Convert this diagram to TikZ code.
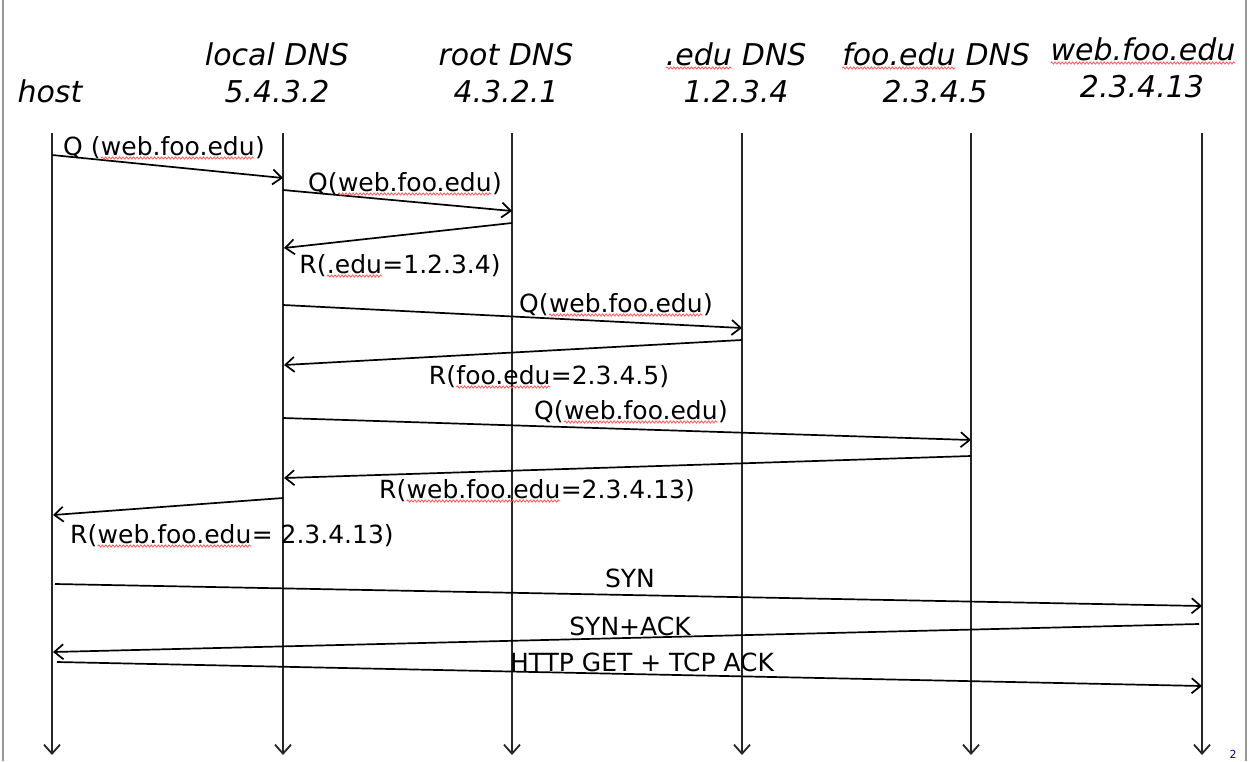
\documentclass[tikz,border=0pt]{standalone}
\usepackage{fontspec}
\setmainfont{DejaVu Sans}
\usetikzlibrary{arrows.meta,decorations.pathmorphing}
\tikzset{squig/.style={draw=red!65!white, line width=0.8pt, decorate, decoration={snake,amplitude=1.1pt,segment length=3.5pt}}}
\newcommand\sqg[1]{\tikz[baseline=(sqw.base)]{\node[inner sep=0pt,outer sep=0pt,anchor=base](sqw) at (0,0) {#1};\draw[squig] ([yshift=-3pt]sqw.base west) -- ([yshift=-3pt]sqw.base east);}}
\begin{document}
\begin{tikzpicture}[x=1pt,y=-1pt,
  hdr/.style={font=\fontsize{30}{32}\selectfont\itshape, inner sep=0pt, anchor=base},
  lbl/.style={font=\fontsize{25}{27}\selectfont, inner sep=0pt, anchor=base},
  life/.style={draw=black!85, line width=1.8pt, -{Straight Barb[length=9pt,width=16pt,line width=1.8pt]}},
  msg/.style={draw=black, line width=1.7pt, -{Straight Barb[length=9pt,width=15pt,line width=1.7pt]}},
  border/.style={draw=black!40, line width=2pt}]
\useasboundingbox (0,0) rectangle (1249,761);
\clip (0,0) rectangle (1249,761);
\fill[white] (0,0) rectangle (1249,761);
% page borders
\coordinate (bl1) at (2.5,0); \coordinate (bl2) at (2.5,761);
\coordinate (br1) at (1246,0); \coordinate (br2) at (1246,761);
\draw[border] (bl1) -- (bl2);
\draw[border] (br1) -- (br2);
% headers
\node[hdr] (hhost) at (50,102) {host};
\node[hdr] (hloc1) at (277,65) {local DNS};
\node[hdr] (hloc2) at (277,102) {5.4.3.2};
\node[hdr] (hroot1) at (506,65) {root DNS};
\node[hdr] (hroot2) at (506,102) {4.3.2.1};
\node[hdr] (hedu1) at (736,65) {\sqg{.edu} DNS};
\node[hdr] (hedu2) at (736,102) {1.2.3.4};
\node[hdr] (hfoo1) at (936,65) {\sqg{foo.edu} DNS};
\node[hdr] (hfoo2) at (935,102) {2.3.4.5};
\node[hdr] (hweb1) at (1143,60) {\sqg{web.foo.edu}};
\node[hdr] (hweb2) at (1142,97) {2.3.4.13};
% lifelines
\coordinate (hostT) at (52,133);  \coordinate (hostB) at (52,755);
\coordinate (locT) at (283,133);  \coordinate (locB) at (283,755);
\coordinate (rootT) at (512,133); \coordinate (rootB) at (512,755);
\coordinate (eduT) at (742,133);  \coordinate (eduB) at (742,755);
\coordinate (fooT) at (971,133);  \coordinate (fooB) at (971,755);
\coordinate (webT) at (1202,133); \coordinate (webB) at (1202,755);
\foreach \n in {host,loc,root,edu,foo,web}{\draw[life] (\n T) -- (\n B);}
% message end points
\coordinate (m1s) at (52,155);   \coordinate (m1e) at (283,178);
\coordinate (m2s) at (283,190);  \coordinate (m2e) at (512,211);
\coordinate (m3s) at (512,223);  \coordinate (m3e) at (284,248);
\coordinate (m4s) at (283,305);  \coordinate (m4e) at (742,328);
\coordinate (m5s) at (742,340);  \coordinate (m5e) at (284,365);
\coordinate (m6s) at (283,418);  \coordinate (m6e) at (971,440);
\coordinate (m7s) at (971,456);  \coordinate (m7e) at (284,478);
\coordinate (m8s) at (283,498);  \coordinate (m8e) at (53,515);
\coordinate (m9s) at (55,584);   \coordinate (m9e) at (1202,606);
\coordinate (m10s) at (1199,624); \coordinate (m10e) at (53,652);
\coordinate (m11s) at (57,662);  \coordinate (m11e) at (1202,686);
\foreach \i in {1,...,11}{\draw[msg] (m\i s) -- (m\i e);}
% labels
\node[lbl] (l1) at (164,155) {Q (\sqg{web.foo.edu})};
\node[lbl] (l2) at (405,191) {Q(\sqg{web.foo.edu})};
\node[lbl] (l3) at (400,273) {R(\sqg{.edu}=1.2.3.4)};
\node[lbl] (l4) at (616,312) {Q(\sqg{web.foo.edu})};
\node[lbl] (l5) at (549,384) {R(\sqg{foo.edu}=2.3.4.5)};
\node[lbl] (l6) at (631,419) {Q(\sqg{web.foo.edu})};
\node[lbl] (l7) at (537,498) {R(\sqg{web.foo.edu}=2.3.4.13)};
\node[lbl] (l8) at (232,543) {R(\sqg{web.foo.edu}= 2.3.4.13)};
\node[lbl] (l9) at (630,587) {SYN};
\node[lbl] (l10) at (630,635) {SYN+ACK};
\node[lbl] (l11) at (642,671) {HTTP GET + TCP ACK};
% page number
\node[font=\fontsize{11}{12}\selectfont, inner sep=0pt, anchor=base, text=blue!50!black] (pg) at (1233,758) {2};
\end{tikzpicture}
\end{document}
